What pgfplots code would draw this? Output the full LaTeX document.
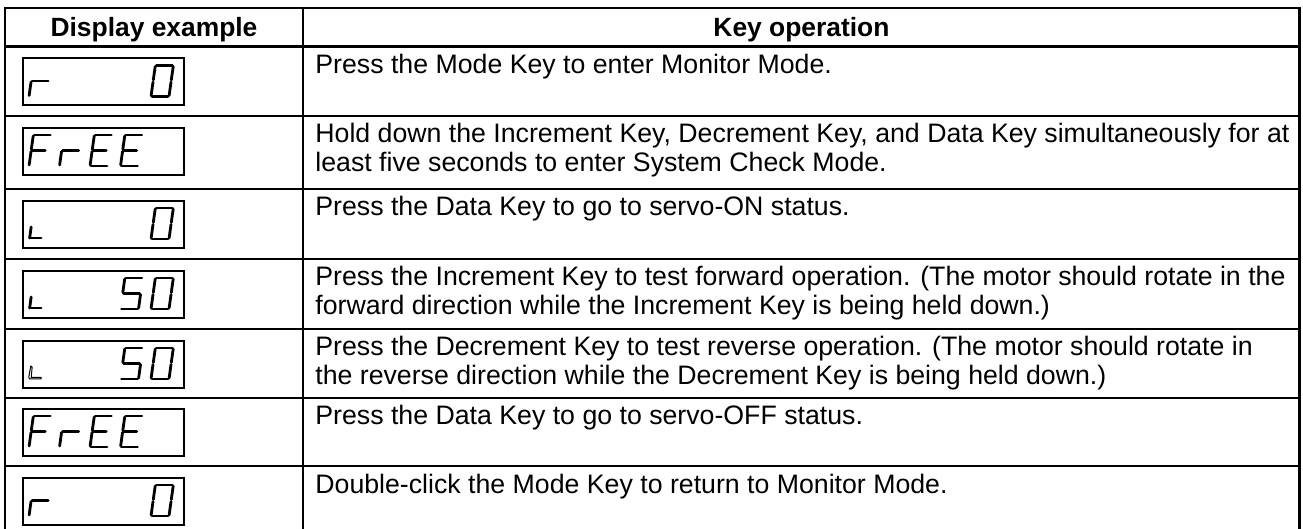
\documentclass[border=0pt]{standalone}
\usepackage{fontspec}
\setmainfont{Liberation Sans}
\usepackage{pgfplots}
\pgfplotsset{compat=1.18}
\newcommand{\tf}{\fontsize{13.35}{15}\selectfont}
\newcommand{\hf}{\fontsize{13.2}{15}\selectfont\bfseries}
\tikzset{
  segst/.style={black, line width=1.4pt, line cap=round, line join=round, mark=none},
  thick line/.style={black, line width=1.4pt, mark=none, line join=miter},
  thin line/.style={black, line width=1pt, mark=none},
  boxst/.style={black, line width=1pt, mark=none, line cap=rect, line join=miter},
}
% one segment: #1 left x, #2 top y, (#3,#4)-(#5,#6) local coords
\newcommand{\seg}[6]{\addplot[segst] table[row sep=\\, x expr={#1+\thisrowno{0}+0.14*(31-\thisrowno{1})}, y expr={#2+\thisrowno{1}}] {u v\\ #3 #4\\ #5 #6\\};}
\newcommand{\SA}[2]{\seg{#1}{#2}{1}{0}{17}{0}}
\newcommand{\SB}[2]{\seg{#1}{#2}{18}{1}{18}{14.5}}
\newcommand{\SC}[2]{\seg{#1}{#2}{18}{16.5}{18}{30}}
\newcommand{\SD}[2]{\seg{#1}{#2}{1}{31}{17}{31}}
\newcommand{\SE}[2]{\seg{#1}{#2}{0}{16.5}{0}{30}}
\newcommand{\SF}[2]{\seg{#1}{#2}{0}{1}{0}{14.5}}
\newcommand{\SG}[2]{\seg{#1}{#2}{1}{15.5}{17}{15.5}}
\newcommand{\SGs}[2]{\seg{#1}{#2}{1}{15.5}{14}{15.5}}
\newcommand{\Dzero}[2]{\SA{#1}{#2}\SB{#1}{#2}\SC{#1}{#2}\SD{#1}{#2}\SE{#1}{#2}\SF{#1}{#2}}
\newcommand{\Dfive}[2]{\SA{#1}{#2}\SF{#1}{#2}\SG{#1}{#2}\SC{#1}{#2}\SD{#1}{#2}}
\newcommand{\DF}[2]{\SA{#1}{#2}\SF{#1}{#2}\SGs{#1}{#2}\SE{#1}{#2}}
\newcommand{\DE}[2]{\SA{#1}{#2}\SF{#1}{#2}\SGs{#1}{#2}\SE{#1}{#2}\SD{#1}{#2}}
\newcommand{\Dr}[2]{\SG{#1}{#2}\SE{#1}{#2}}
\newcommand{\DL}[2]{\seg{#1}{#2}{0.5}{19}{0.5}{30}\seg{#1}{#2}{0.5}{30}{12}{30}}
\newcommand{\DLo}[2]{\addplot[black, line width=0.5pt, mark=none, line join=round] table[row sep=\\, x expr={#1+\thisrowno{0}+0.14*(31-\thisrowno{1})}, y expr={#2+\thisrowno{1}}] {u v\\ 1.5 19\\ 0 18\\ -0.5 29\\ 0.5 31\\ 12 31\\ 12 29.5\\ 2 29.5\\ 1.5 19\\};}
\newcommand{\dbox}[1]{\addplot[boxst] table[row sep=\\, y expr={#1+\thisrowno{1}}] {x y\\ 23 0\\ 183.5 0\\ 183.5 47\\ 23 47\\ 23 0\\};}
\begin{document}
\begin{tikzpicture}
\begin{axis}[
  width=651.5pt, height=264.5pt, scale only axis,
  xmin=0, xmax=1303, ymin=0, ymax=529, y dir=reverse,
  hide axis, clip=true,
]
\addplot[draw=none, mark=none] coordinates {(0,0) (1303,529)};
% table frame
\addplot[thick line] coordinates {(5,540) (5,8) (1299.5,8) (1299.5,540)};
\addplot[thick line] coordinates {(5,46.5) (1299.5,46.5)};
\addplot[thick line] coordinates {(303,8) (303,540)};
\addplot[thin line] coordinates {(5,116) (1299.5,116)};
\addplot[thin line] coordinates {(5,189) (1299.5,189)};
\addplot[thin line] coordinates {(5,259) (1299.5,259)};
\addplot[thin line] coordinates {(5,329) (1299.5,329)};
\addplot[thin line] coordinates {(5,398) (1299.5,398)};
\addplot[thin line] coordinates {(5,466) (1299.5,466)};
% header
\node[anchor=base, inner sep=0pt, font=\hf] at (axis cs:154,36.5) {Display example};
\node[anchor=base, inner sep=0pt, font=\hf] at (axis cs:801.5,36.5) {Key operation};
% displays
\dbox{58.5}\Dr{29}{65.5}\Dzero{151}{65.5}
\dbox{128}\DF{29}{135}\Dr{59.5}{135}\DE{90}{135}\DE{120.5}{135}
\dbox{201}\DL{29}{208}\Dzero{151}{208}
\dbox{271}\DL{29}{278}\Dfive{120.5}{278}\Dzero{151}{278}
\dbox{341}\DLo{29}{348}\Dfive{120.5}{348}\Dzero{151}{348}
\dbox{409}\DF{29}{416}\Dr{59.5}{416}\DE{90}{416}\DE{120.5}{416}
\dbox{478}\Dr{29}{485}\Dzero{151}{485}
% texts
\node[anchor=base west, inner sep=0pt, font=\tf] at (axis cs:315,73.5) {Press the Mode Key to enter Monitor Mode.};
\node[anchor=base west, inner sep=0pt, font=\tf] at (axis cs:315,143) {Hold down the Increment Key, Decrement Key, and Data Key simultaneously for at};
\node[anchor=base west, inner sep=0pt, font=\tf] at (axis cs:315,172) {least five seconds to enter System Check Mode.};
\node[anchor=base west, inner sep=0pt, font=\tf] at (axis cs:315,216) {Press the Data Key to go to servo-ON status.};
\node[anchor=base west, inner sep=0pt, font=\tf] at (axis cs:315,286) {Press the Increment Key to test forward operation. (The motor should rotate in the};
\node[anchor=base west, inner sep=0pt, font=\tf] at (axis cs:315,315) {forward direction while the Increment Key is being held down.)};
\node[anchor=base west, inner sep=0pt, font=\tf] at (axis cs:315,356) {Press the Decrement Key to test reverse operation. (The motor should rotate in};
\node[anchor=base west, inner sep=0pt, font=\tf] at (axis cs:315,385) {the reverse direction while the Decrement Key is being held down.)};
\node[anchor=base west, inner sep=0pt, font=\tf] at (axis cs:315,425) {Press the Data Key to go to servo-OFF status.};
\node[anchor=base west, inner sep=0pt, font=\tf] at (axis cs:315,494) {Double-click the Mode Key to return to Monitor Mode.};
\end{axis}
\end{tikzpicture}
\end{document}
